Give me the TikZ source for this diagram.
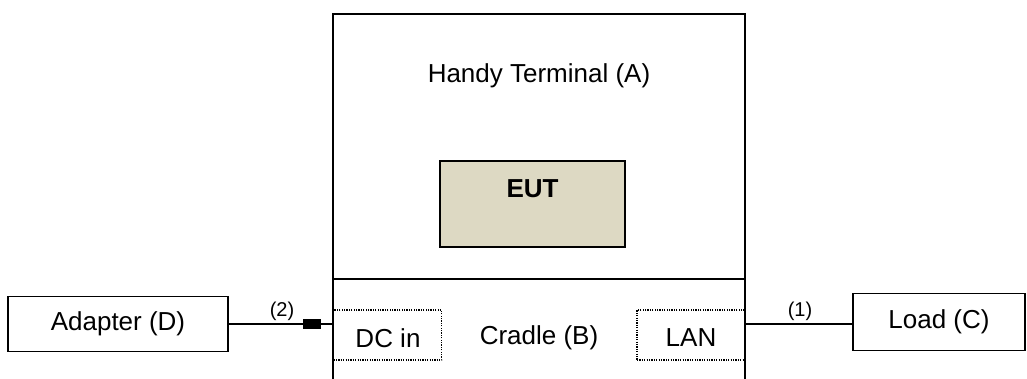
\documentclass[tikz,border=0pt]{standalone}
\usepackage{fontspec}
\setmainfont{Liberation Sans}
\definecolor{euttan}{HTML}{DDD9C3}
\begin{document}
\begin{tikzpicture}[x=1pt,y=-1pt,
  every node/.style={font=\fontsize{26}{30}\selectfont, inner sep=0pt},
  solidbox/.style={draw, line width=1.5pt, minimum width=#1, minimum height=55pt},
  portbox/.style={draw, dash pattern=on 1.2pt off 1.2pt, line width=1.3pt, minimum width=108pt, minimum height=50pt},
  wire/.style={line width=1.2pt},
  wirelabel/.style={font=\fontsize{20}{24}\selectfont}]
\useasboundingbox (0,0) rectangle (1027,378);
% main enclosure (open at bottom)
\draw[line width=2pt] (333,380) -- (333,14) -- (745,14) -- (745,380);
\coordinate (divL) at (333,279);
\coordinate (divR) at (745,279);
\draw[line width=2pt] (divL) -- (divR);
\node (term) at (539,76) {Handy Terminal (A)};
\node[draw, line width=1.5pt, fill=euttan, minimum width=185pt, minimum height=86pt] (eut) at (532.5,204) {};
\node[font=\fontsize{26}{30}\selectfont\bfseries] (euttxt) at (532.5,189) {EUT};
% cradle ports
\node[portbox] (dcin) at (387.5,335) {};
\node (dctxt) at (388,338) {DC in};
\node[portbox] (lan) at (691,335) {};
\node (lantxt) at (691,338) {LAN};
\node (cradle) at (539,338) {Cradle (B)};
% external boxes
\node[solidbox=220pt] (adapter) at (118,324) {Adapter (D)};
\node[solidbox=172pt, minimum height=57pt] (load) at (939,322) {Load (C)};
% wires
\coordinate (cradleL) at (333,324);
\coordinate (cradleR) at (745,324);
\node[fill=black, minimum width=18pt, minimum height=10pt] (plug) at (312,324) {};
\draw[wire] (adapter.east |- cradleL) -- (plug.west);
\draw[wire] (plug.east) -- (cradleL);
\draw[wire] (cradleR) -- (load.west |- cradleR);
\node[wirelabel] (l2) at (282,311) {(2)};
\node[wirelabel] (l1) at (800,311) {(1)};
\end{tikzpicture}
\end{document}
